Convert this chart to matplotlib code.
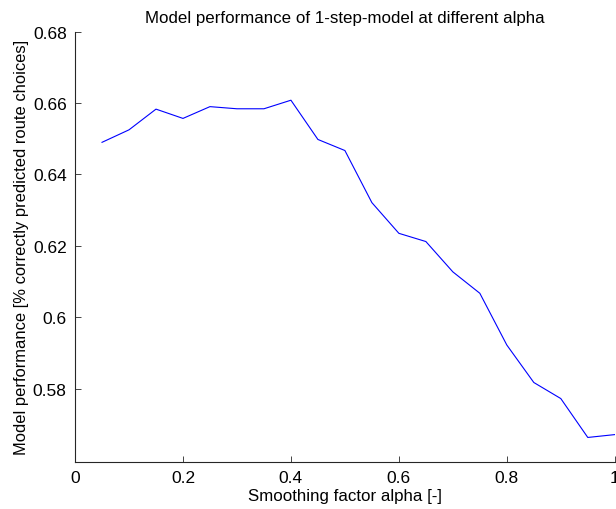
import matplotlib
matplotlib.use("Agg")
import matplotlib.pyplot as plt

# Smoothing factor values and resulting model performance
alpha = [0.05, 0.10, 0.15, 0.20, 0.25, 0.30, 0.35, 0.40, 0.45, 0.50,
         0.55, 0.60, 0.65, 0.70, 0.75, 0.80, 0.85, 0.90, 0.95, 1.00]
performance = [0.6490, 0.6525, 0.6583, 0.6557, 0.6590, 0.6584, 0.6584, 0.6608, 0.6498, 0.6467,
               0.6321, 0.6235, 0.6212, 0.6127, 0.6067, 0.5922, 0.5817, 0.5772, 0.5663, 0.5671]

xticks = [0, 0.2, 0.4, 0.6, 0.8, 1.0]
xtick_labels = ["0", "0.2", "0.4", "0.6", "0.8", "1"]
yticks = [0.58, 0.60, 0.62, 0.64, 0.66, 0.68]
ytick_labels = ["0.58", "0.6", "0.62", "0.64", "0.66", "0.68"]

plt.rcParams["font.family"] = ["Liberation Sans", "DejaVu Sans"]
plt.rcParams["font.size"] = 12

fig = plt.figure(figsize=(6.16, 5.10), dpi=100)
ax = fig.add_axes([0.1218, 0.0927, 0.998 - 0.1218, 0.9359 - 0.0927])

ax.plot(alpha, performance, color=(0, 0, 1), linewidth=0.8)

ax.set_xlim(0, 1)
ax.set_ylim(0.5595, 0.68)
ax.set_xticks(xticks)
ax.set_xticklabels(xtick_labels)
ax.set_yticks(yticks)
ax.set_yticklabels(ytick_labels)

for side in ("top", "right"):
    ax.spines[side].set_visible(False)
for side in ("left", "bottom"):
    ax.spines[side].set_linewidth(0.8)
    ax.spines[side].set_color("#262626")
ax.tick_params(direction="in", length=4, width=0.6, colors="#262626",
               labelcolor="black", labelsize=12.5, pad=6)

ax.set_title("Model performance of 1-step-model at different alpha", fontsize=12.2, pad=7)
ax.set_xlabel("Smoothing factor alpha [-]", fontsize=12.2, labelpad=2)
ax.set_ylabel("Model performance [% correctly predicted route choices]", fontsize=11.9, labelpad=3)

fig.savefig("out.png", dpi=100)
